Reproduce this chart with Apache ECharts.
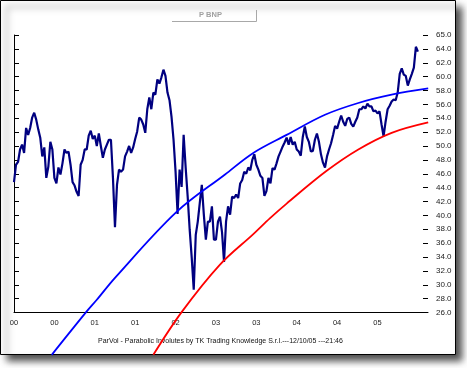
<!DOCTYPE html>
<html>
<head>
<meta charset="utf-8">
<script src="https://cdn.jsdelivr.net/npm/echarts@6/dist/echarts.min.js"></script>
<style>html,body{margin:0;padding:0;background:#fff;}#c{width:467px;height:368px;}</style>
</head>
<body>
<div id="c"></div>
<script>
// x tick labels (one every 20 index steps)
const xTickLabels = ['00','00','01','01','02','03','03','04','04','05'];
// price series (one value per index step)
const priceValues = [
44.8,47.3,47.7,49.5,50.2,49.0,52.6,51.6,52.6,54.1,
54.8,53.8,52.4,51.2,48.5,49.8,45.4,47.0,50.6,49.5,
45.4,44.6,46.9,45.9,47.5,49.5,49.0,49.2,47.3,44.8,
44.3,43.4,42.8,47.3,48.0,49.5,49.5,51.5,52.2,51.0,
51.5,50.0,51.8,50.0,48.3,49.5,50.2,50.9,50.9,45.4,
38.3,44.4,46.6,46.3,46.6,48.5,49.2,50.0,49.0,49.8,
51.0,52.1,54.1,53.8,53.1,51.9,55.3,57.0,55.3,57.7,
57.4,59.6,59.0,59.9,61.0,60.1,57.7,56.6,54.2,50.9,
46.3,40.2,46.6,44.1,51.6,46.9,42.7,37.9,33.9,29.3,
37.2,39.1,41.8,44.4,40.1,36.5,39.1,39.1,41.3,36.5,
36.5,39.1,39.8,37.6,33.3,39.1,41.3,40.1,42.7,42.5,
43.0,42.5,44.6,45.1,46.3,46.0,46.9,46.5,48.0,48.8,
47.3,46.6,45.7,45.4,42.8,43.5,45.4,44.6,46.8,46.6,
47.5,48.5,49.2,49.9,50.5,51.2,50.2,51.3,50.2,50.6,
49.5,49.2,48.6,51.3,52.8,51.3,50.6,49.2,49.3,50.9,
51.8,50.6,48.8,47.6,46.9,48.5,49.5,50.4,51.6,52.9,
52.5,53.5,54.4,53.5,52.9,53.9,54.1,53.2,52.8,53.5,
54.1,55.3,55.3,55.7,55.4,56.1,55.7,55.7,55.0,55.1,
54.7,55.0,53.1,51.4,53.5,55.3,55.8,56.4,56.7,56.6,
57.7,60.4,61.2,60.3,60.1,58.7,59.6,60.4,61.3,64.3,
63.6
];
// upper (blue) parabola: index positions and values
const blueIdx  = [18.7, 35.7, 40.9, 50.0, 80.5, 104.5, 118.5, 135.0, 154.0, 170.5, 187.0, 205.1];
const blueVals = [19.9, 26.05, 27.8, 31.0, 40.5, 45.9, 49.0, 51.6, 54.5, 56.2, 57.4, 58.3];
// lower (red) parabola
const redIdx  = [69.0, 83.0, 102.0, 118.5, 126.8, 135.0, 154.5, 170.5, 187.0, 205.1];
const redVals = [19.9, 26.05, 32.9, 37.3, 39.6, 41.7, 46.35, 49.5, 51.9, 53.4];

const chart = echarts.init(document.getElementById('c'), null, {renderer:'canvas'});
const yCommon = {type:'value', min:26, max:66, interval:2, position:'right', splitLine:{show:false}};
chart.setOption({
  animation:false,
  backgroundColor:'#fff',
  graphic:[
    {type:'rect', z:-10, shape:{x:0.5,y:0.5,width:455,height:354},
     style:{fill:'#fff', stroke:'#000', lineWidth:1, shadowBlur:7, shadowOffsetX:6, shadowOffsetY:6, shadowColor:'rgba(0,0,0,0.7)'}},
    {type:'polyline', z:-5, shape:{points:[[172,21.5],[256.5,21.5],[256.5,10]]}, style:{stroke:'#a8a8a8', lineWidth:1, fill:null}},
    {type:'text', left:199, top:11, style:{text:'P BNP', fill:'#a0a0a0', font:'bold 7.5px "Liberation Sans"'}},
    {type:'text', left:98, top:338, style:{text:'ParVol - Parabolic Involutes by TK Trading Knowledge S.r.l.---12/10/05 ---21:46', fill:'#111', font:'7px "Liberation Sans"'}}
  ],
  grid:{left:14, right:39, top:35, bottom:55.5, containLabel:false},
  xAxis:{type:'value', min:0, max:205, interval:20,
    axisLine:{show:true, lineStyle:{color:'#000', width:1}},
    axisTick:{show:false}, splitLine:{show:false},
    axisLabel:{showMaxLabel:false, margin:6, color:'#222', fontSize:7.5, fontFamily:'Liberation Sans',
      formatter:function(v){const k=Math.round(v/20); return k<xTickLabels.length?xTickLabels[k]:'';}}
  },
  yAxis:[
    Object.assign({}, yCommon, {
      axisLine:{show:true, lineStyle:{color:'#000', width:1}},
      axisTick:{show:true, length:5, lineStyle:{color:'#000'}},
      axisLabel:{margin:8, color:'#222', fontSize:8, fontFamily:'Liberation Sans',
        formatter:function(v){return v===66?'65.0':v.toFixed(1);}}
    }),
    Object.assign({}, yCommon, {
      axisLine:{show:false},
      axisTick:{show:true, inside:true, length:5, lineStyle:{color:'#000'}},
      axisLabel:{show:false}
    })
  ],
  series:[
    {type:'line', data:priceValues.map((v,i)=>[i,v]), showSymbol:false, symbol:'none',
     lineStyle:{color:'#000080', width:2.2}, z:2},
    {type:'line', data:blueIdx.map((x,i)=>[x,blueVals[i]]), showSymbol:false, symbol:'none', clip:false,
     smooth:0.35, lineStyle:{color:'#0000ff', width:1.8}, z:3},
    {type:'line', data:redIdx.map((x,i)=>[x,redVals[i]]), showSymbol:false, symbol:'none', clip:false,
     smooth:0.35, lineStyle:{color:'#ff0000', width:1.8}, z:3}
  ]
});
</script>
</body>
</html>
